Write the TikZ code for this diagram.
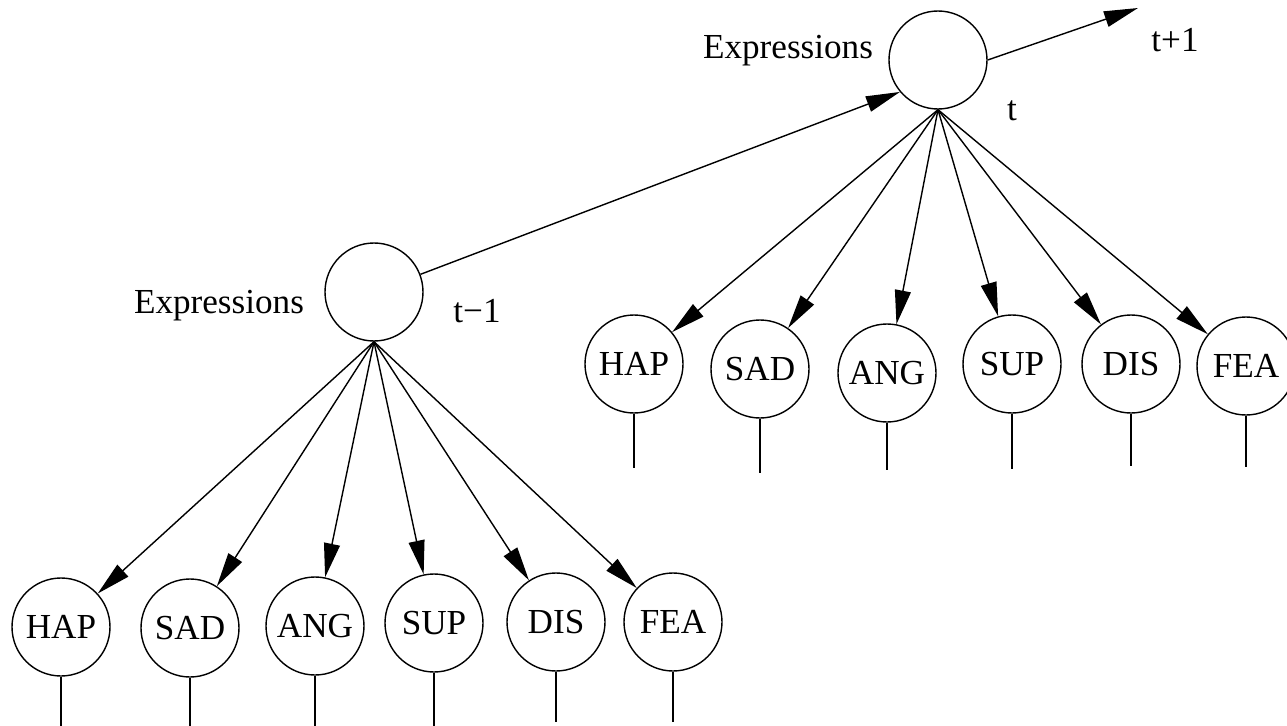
\documentclass[tikz,border=0pt]{standalone}
\usepackage{fontspec}
\setmainfont{Liberation Serif}
\usetikzlibrary{arrows.meta}
\tikzset{emo/.style={draw,circle,inner sep=0pt,minimum size=1.96cm},
    lab/.style={inner sep=0pt,anchor=base}}
\begin{document}
\begin{tikzpicture}[>={Triangle[length=0.68cm,width=0.32cm]},line width=0.8pt,font=\fontsize{20}{24}\selectfont]
        \useasboundingbox (0,0) rectangle (25.74,-14.52);
        \begin{scope}
            \node[emo] (xt) at (18.76,-1.20) {};
            \node[emo] (xtm) at (7.48,-5.84) {};
            \coordinate (tnext) at (22.76,-0.16);
            \node[lab] (labt) at (15.76,-1.16) {Expressions};
            \node[lab] (labtm) at (4.38,-6.26) {Expressions};
            \node[lab] (tt) at (20.24,-2.40) {t};
            \node[lab] (ttp) at (23.50,-1.04) {t+1};
            \node[lab] (ttm) at (9.54,-6.44) {t−1};
            \draw[->] (xtm) -- (xt.220);
            \draw[->] (xt.east) -- (tnext);
        \end{scope}
        \begin{scope}
            \node[emo] (hapt) at (12.68,-7.28) {HAP};
            \node[emo] (sadt) at (15.20,-7.38) {SAD};
            \node[emo] (angt) at (17.74,-7.46) {ANG};
            \node[emo] (supt) at (20.24,-7.28) {SUP};
            \node[emo] (dist) at (22.62,-7.28) {DIS};
            \node[emo] (feat) at (24.92,-7.32) {FEA};
            \draw[->] (xt.south) -- (hapt);
            \draw[->] (xt.south) -- (sadt);
            \draw[->] (xt.south) -- (angt);
            \draw[->] (xt.south) -- (supt);
            \draw[->] (xt.south) -- (dist);
            \draw[->] (xt.south) -- (feat);
            \draw (hapt.south) -- (hapt.south |- 0,-9.36);
            \draw (sadt.south) -- (sadt.south |- 0,-9.46);
            \draw (angt.south) -- (angt.south |- 0,-9.40);
            \draw (supt.south) -- (supt.south |- 0,-9.38);
            \draw (dist.south) -- (dist.south |- 0,-9.32);
            \draw (feat.south) -- (feat.south |- 0,-9.34);
        \end{scope}
        \begin{scope}
            \node[emo] (hapm) at (1.22,-12.54) {HAP};
            \node[emo] (sadm) at (3.80,-12.56) {SAD};
            \node[emo] (angm) at (6.30,-12.52) {ANG};
            \node[emo] (supm) at (8.68,-12.46) {SUP};
            \node[emo] (dism) at (11.12,-12.44) {DIS};
            \node[emo] (feam) at (13.46,-12.44) {FEA};
            \draw[->] (xtm.south) -- (hapm);
            \draw[->] (xtm.south) -- (sadm);
            \draw[->] (xtm.south) -- (angm);
            \draw[->] (xtm.south) -- (supm);
            \draw[->] (xtm.south) -- (dism);
            \draw[->] (xtm.south) -- (feam);
            \draw (hapm.south) -- (hapm.south |- 0,-14.52);
            \draw (sadm.south) -- (sadm.south |- 0,-14.52);
            \draw (angm.south) -- (angm.south |- 0,-14.52);
            \draw (supm.south) -- (supm.south |- 0,-14.52);
            \draw (dism.south) -- (dism.south |- 0,-14.44);
            \draw (feam.south) -- (feam.south |- 0,-14.44);
        \end{scope}
    \end{tikzpicture}
\end{document}
